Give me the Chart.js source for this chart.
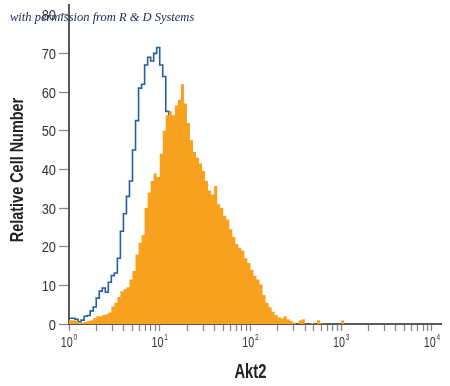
<!DOCTYPE html>
<html><head><meta charset="utf-8">
<script src="https://cdn.jsdelivr.net/npm/chart.js@4/dist/chart.umd.min.js"></script>
<style>html,body{margin:0;padding:0;background:#fff}#c{display:block}</style>
</head><body>
<canvas id="c" width="450" height="386"></canvas>
<script>
// Histogram bins: 30 bins per decade starting at 10^0
const binsPerDecade = 30;
const isotypeCounts = [1.5,1.5,1.2,0.6,1.0,2.0,2.2,3.4,4.4,6.7,8.5,9.3,8.2,10.8,12.5,13.2,17,24,28.5,33,37,45,52.6,61,62,67,69,68,70,71.5,67,64,55,45,32,22,14,9,6,4,3,2,1.5,1,0.8,0.5,0.3];
const akt2Counts = [1.0,1.0,0.8,0.3,0.3,0.5,0.8,1.0,1.5,2,2,2.3,2.5,3,4.5,5.5,7,8.5,9,9.5,11.5,13.7,18,21,23,30,34,37,39,38,44,50,54,55,54,56.5,58,62,57,52,47.5,44.5,43,41.5,39.6,37,34.5,33.5,35.7,31,30,28,27,24.5,22.5,20.7,19.7,19,17,15.8,14,12.5,11.5,10.2,7.5,5.5,4.3,3.2,2.3,1.7,1.5,2,1.2,0.8,0.3,0,1.0,1.2,0,0,0.3,0,1.0,0.2,0,0,0,0,0,0,0.9,0];
const yTickValues = [0,10,20,30,40,50,60,70,80];
const xMajorTicks = [1,10,100,1000,10000];
const xTickBase = '10';
const xTickExponents = ['0','1','2','3','4'];
const xAxisTitle = 'Akt2';
const yAxisTitle = 'Relative Cell Number';
const watermark = 'with permission from R & D Systems';

function toPoints(counts){
  const pts = counts.map((v,i)=>({x: Math.pow(10, i/binsPerDecade), y: v}));
  pts.push({x: Math.pow(10, counts.length/binsPerDecade), y: 0});
  return pts;
}
const xMinorTicks = [];
for (let d=0; d<4; d++) for (let m=1; m<10; m++) xMinorTicks.push(m*Math.pow(10,d));
xMinorTicks.push(10000);

const FONT = '"Liberation Sans", Arial, sans-serif';
function drawScaled(ctx, text, x, y, font, sx, align, color, rot){
  ctx.save();
  ctx.translate(x, y);
  if (rot) ctx.rotate(rot);
  ctx.scale(sx, 1);
  ctx.font = font; ctx.textAlign = align; ctx.textBaseline = 'alphabetic';
  ctx.fillStyle = color;
  ctx.fillText(text, 0, 0);
  ctx.restore();
}

const textPlugin = {
  id:'texts',
  afterDraw(chart){
    const ctx = chart.ctx;
    const xs = chart.scales.x, ys = chart.scales.y;
    // y tick labels
    yTickValues.forEach(v=>{
      drawScaled(ctx, String(v), 56, ys.getPixelForValue(v)+5.5, '15px '+FONT, 0.86, 'right', '#333');
    });
    // x tick labels with superscript exponents
    const sx = 0.72;
    xMajorTicks.forEach((v,k)=>{
      const px = xs.getPixelForValue(v);
      ctx.save();
      ctx.font = '15px '+FONT; const wb = ctx.measureText(xTickBase).width*sx;
      ctx.font = '9px '+FONT; const we = ctx.measureText(xTickExponents[k]).width*sx;
      ctx.restore();
      const start = px - (wb + 0.8 + we)/2;
      drawScaled(ctx, xTickBase, start, 347, '15px '+FONT, sx, 'left', '#333');
      drawScaled(ctx, xTickExponents[k], start+wb+0.8, 340, '9px '+FONT, sx, 'left', '#333');
    });
    // axis titles
    drawScaled(ctx, xAxisTitle, xs.getPixelForValue(Math.pow(10,2)), 378, 'bold 20px '+FONT, 0.74, 'center', '#222');
    drawScaled(ctx, yAxisTitle, 23, 170, 'bold 19px '+FONT, 0.76, 'center', '#222', -Math.PI/2);
    // watermark
    ctx.save();
    ctx.font = 'italic 12.5px "Liberation Serif"';
    ctx.fillStyle = '#1c2656';
    ctx.textBaseline = 'alphabetic';
    ctx.fillText(watermark, 10, 21);
    ctx.restore();
  }
};

new Chart(document.getElementById('c'), {
  type:'line',
  data:{datasets:[
    {data: toPoints(akt2Counts), stepped:true, fill:'origin', backgroundColor:'#f7a11e', borderColor:'rgba(0,0,0,0)', borderWidth:1, pointRadius:0},
    {data: toPoints(isotypeCounts), stepped:true, fill:false, borderColor:'#23609c', borderWidth:1.6, pointRadius:0}
  ]},
  options:{
    responsive:false, animation:false, events:[],
    layout:{padding:{left:0, top:5, right:9, bottom:0}},
    plugins:{legend:{display:false}, tooltip:{enabled:false}},
    scales:{
      x:{type:'logarithmic', min:1, max:12600,
        afterBuildTicks(s){ s.ticks = xMinorTicks.map(v=>({value:v})); },
        afterFit(s){ s.height = 62; },
        ticks:{display:false, autoSkip:false},
        grid:{drawOnChartArea:false, drawTicks:true, tickLength:7, tickColor:'#8a8a8a', tickWidth:1.3},
        border:{display:true, color:'#5a5a5a', width:2},
        title:{display:false}
      },
      y:{type:'linear', min:0, max:82.5,
        afterBuildTicks(s){ s.ticks = yTickValues.map(v=>({value:v})); },
        afterFit(s){ s.width = 69; },
        ticks:{display:false},
        grid:{drawOnChartArea:false, drawTicks:true, tickLength:10, tickColor:'#8a8a8a', tickWidth:1.3},
        border:{display:true, color:'#5a5a5a', width:2},
        title:{display:false}
      }
    }
  },
  plugins:[textPlugin]
});
</script>
</body></html>
